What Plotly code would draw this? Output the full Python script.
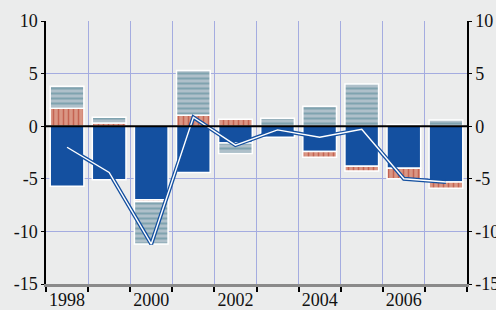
import plotly.graph_objects as go

years = [1998, 1999, 2000, 2001, 2002, 2003, 2004, 2005, 2006, 2007]
blue_vals = [-5.7, -5.1, -7.0, -4.4, -1.6, -1.05, -2.4, -3.8, -4.0, -5.3]
red_vals = [1.7, 0.3, -0.15, 1.05, 0.65, 0.0, -0.55, -0.45, -1.0, -0.6]
gray_vals = [2.1, 0.55, -4.05, 4.25, -1.0, 0.75, 1.9, 4.0, 0.15, 0.6]
line_vals = [-2.0, -4.4, -11.2, 0.85, -1.8, -0.35, -1.05, -0.3, -5.0, -5.3]
tick_years = [1998, 2000, 2002, 2004, 2006]
y_ticks = [-15, -10, -5, 0, 5, 10]
y_text = ["-15", "-10", "-5", "0", "5", "10"]

BLUE = "#1450A0"
fig = go.Figure()
fig.add_trace(go.Bar(x=years, y=blue_vals, marker=dict(color=BLUE, line=dict(color="white", width=1.5)), width=0.8))
fig.add_trace(go.Bar(x=years, y=red_vals, width=0.8,
                     marker=dict(color="#D99684", line=dict(color="white", width=1.5),
                                 pattern=dict(shape="|", fgcolor="#B03020", bgcolor="#D99684", size=5, solidity=0.3))))
fig.add_trace(go.Bar(x=years, y=gray_vals, width=0.8,
                     marker=dict(color="#AFC0CA", line=dict(color="white", width=1.5),
                                 pattern=dict(shape="-", fgcolor="#4F8594", bgcolor="#AFC0CA", size=5, solidity=0.4))))
fig.add_trace(go.Scatter(x=years, y=line_vals, mode="lines", line=dict(color=BLUE, width=4)))
fig.add_trace(go.Scatter(x=years, y=line_vals, mode="lines", line=dict(color="white", width=1.4)))
# dummy trace for right axis
fig.add_trace(go.Scatter(x=[years[0]], y=[0], yaxis="y2", mode="markers", marker=dict(opacity=0), hoverinfo="skip"))

BG = "#EBECEC"
GRID = "#A4ACE0"
font = dict(family="Liberation Serif, Times New Roman, serif", size=18, color="#111")
fig.update_layout(
    width=496, height=310, barmode="relative", bargap=0.2, showlegend=False,
    paper_bgcolor=BG, plot_bgcolor=BG, margin=dict(l=46, r=29, t=21, b=26, autoexpand=False), font=font,
    xaxis=dict(range=[1997.5, 2007.5], tickvals=tick_years, ticktext=[str(y) for y in tick_years],
               showgrid=False, ticks="", ticklen=0, showline=True, linecolor="#8A8A8A", linewidth=3,
               ticklabelstandoff=-3,
               minor=dict(tick0=1997.5, dtick=1, showgrid=True, gridcolor=GRID, gridwidth=1,
                          ticks="outside", ticklen=5, tickcolor="black", tickwidth=1.5),
               tickfont=font, zeroline=False, automargin=False),
    yaxis=dict(range=[-15, 10], tickvals=y_ticks, ticktext=y_text, showgrid=True, gridcolor=GRID, gridwidth=1,
               zeroline=False, showline=True, linecolor="black",
               linewidth=1.5, ticks="outside", ticklen=3, tickcolor="black", tickfont=font, automargin=False),
    yaxis2=dict(range=[-15, 10], tickvals=y_ticks, ticktext=y_text, overlaying="y", side="right",
                showgrid=False, zeroline=False, showline=True, linecolor="black", linewidth=1.5,
                ticks="outside", ticklen=3, tickcolor="black", tickfont=font, automargin=False),
    shapes=[dict(type="line", xref="paper", yref="y", x0=0, x1=1, y0=0, y1=0,
                 line=dict(color="black", width=2), layer="above")],
)
fig.write_html("out.html", config={"displayModeBar": False},
               post_script="document.body.style.margin='0';document.body.style.background='#EBECEC';")
